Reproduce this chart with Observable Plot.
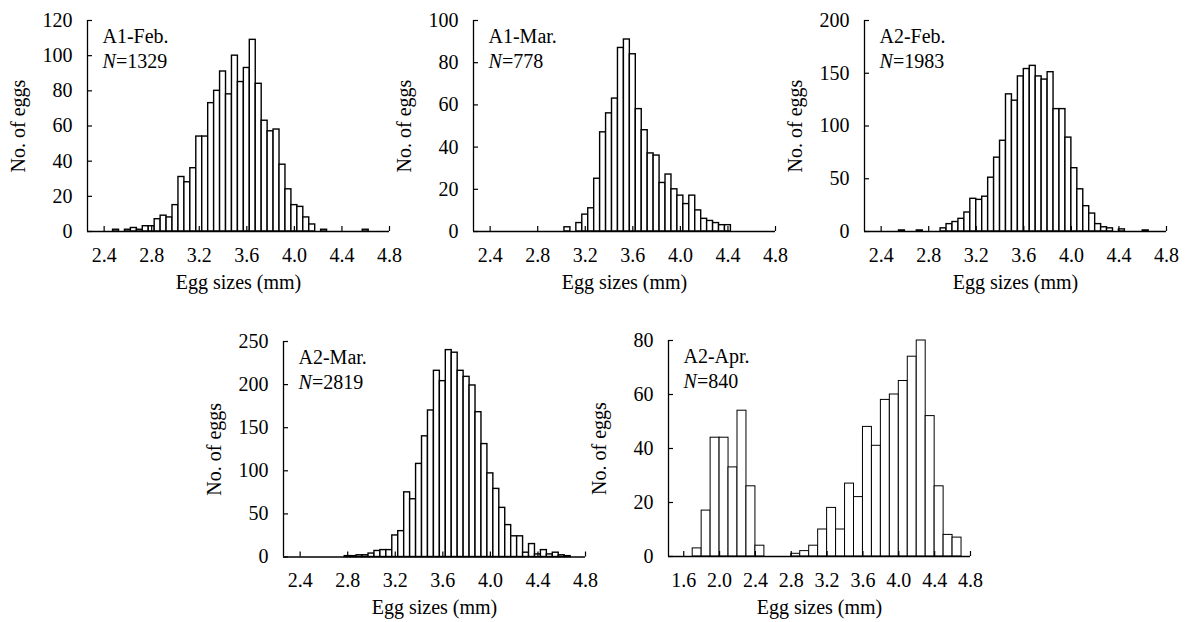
<!DOCTYPE html>
<html><head><meta charset="utf-8">
<script src="https://cdn.jsdelivr.net/npm/d3@7"></script>
<script src="https://cdn.jsdelivr.net/npm/@observablehq/plot@0.6"></script>
<style>
html,body{margin:0;padding:0;background:#fff;overflow:hidden;}
#chart{position:relative;width:1188px;height:622px;overflow:hidden;background:#fff;}
#chart svg{position:absolute;}
</style></head><body><div id="chart"></div>
<script>
// ---- data (egg size bin centres in mm, and number of eggs) ----
const a1FebSize = [2.50, 2.60, 2.65, 2.70, 2.75, 2.80, 2.85, 2.90, 2.95, 3.00, 3.05, 3.10, 3.15, 3.20, 3.25, 3.30, 3.35, 3.40, 3.45, 3.50, 3.55, 3.60, 3.65, 3.70, 3.75, 3.80, 3.85, 3.90, 3.95, 4.00, 4.05, 4.10, 4.15, 4.25, 4.60];
const a1FebCount = [1, 1, 2, 1, 3, 3, 7, 9, 8, 15, 31, 28, 36, 54, 54, 73, 80, 91, 78, 100, 85, 93, 109, 84, 63, 57, 58, 38, 24, 15, 14, 8, 4, 1, 1];

const a1MarSize = [3.05, 3.15, 3.20, 3.25, 3.30, 3.35, 3.40, 3.45, 3.50, 3.55, 3.60, 3.65, 3.70, 3.75, 3.80, 3.85, 3.90, 3.95, 4.00, 4.05, 4.10, 4.15, 4.20, 4.25, 4.30, 4.35, 4.40];
const a1MarCount = [2, 4, 8, 11, 25, 47, 56, 63, 87, 91, 84, 58, 48, 37, 36, 23, 27, 20, 17, 13, 17, 10, 6, 5, 4, 3, 3];

const a2FebSize = [2.575, 2.725, 2.925, 2.975, 3.025, 3.075, 3.125, 3.175, 3.225, 3.275, 3.325, 3.375, 3.425, 3.475, 3.525, 3.575, 3.625, 3.675, 3.725, 3.775, 3.825, 3.875, 3.925, 3.975, 4.025, 4.075, 4.125, 4.175, 4.225, 4.275, 4.325, 4.425, 4.625];
const a2FebCount = [1, 1, 3, 7, 9, 12, 18, 31, 30, 33, 51, 70, 86, 130, 124, 147, 154, 157, 147, 144, 151, 116, 116, 89, 60, 40, 24, 17, 7, 4, 3, 2, 1];

const a2MarSize = [2.80, 2.85, 2.90, 2.95, 3.00, 3.05, 3.10, 3.15, 3.20, 3.25, 3.30, 3.35, 3.40, 3.45, 3.50, 3.55, 3.60, 3.65, 3.70, 3.75, 3.80, 3.85, 3.90, 3.95, 4.00, 4.05, 4.10, 4.15, 4.20, 4.25, 4.30, 4.35, 4.40, 4.45, 4.50, 4.55, 4.60, 4.65];
const a2MarCount = [1, 1, 2, 2, 4, 7, 8, 8, 25, 30, 75, 67, 108, 140, 170, 216, 204, 240, 237, 216, 209, 199, 168, 131, 97, 79, 57, 37, 24, 24, 5, 15, 3, 8, 3, 5, 2, 1];

const a2AprSize = [1.75, 1.85, 1.95, 2.05, 2.15, 2.25, 2.35, 2.45, 2.85, 2.95, 3.05, 3.15, 3.25, 3.35, 3.45, 3.55, 3.65, 3.75, 3.85, 3.95, 4.05, 4.15, 4.25, 4.35, 4.45, 4.55, 4.65];
const a2AprCount = [3, 17, 44, 44, 33, 54, 26, 4, 1, 2, 4, 10, 18, 10, 27, 22, 48, 41, 58, 60, 65, 74, 80, 52, 26, 8, 7];

const panelNames = ["A1-Feb.", "A1-Mar.", "A2-Feb.", "A2-Mar.", "A2-Apr."];
const panelN = ["1329", "778", "1983", "2819", "840"];
const binWidths = [0.05, 0.05, 0.05, 0.05, 0.1];
const xTicksMain = [2.4, 2.8, 3.2, 3.6, 4.0, 4.4, 4.8];
const xTicksApr = [1.6, 2.0, 2.4, 2.8, 3.2, 3.6, 4.0, 4.4, 4.8];
const yTicks1 = [0, 20, 40, 60, 80, 100, 120];
const yTicks2 = [0, 20, 40, 60, 80, 100];
const yTicks3 = [0, 50, 100, 150, 200];
const yTicks4 = [0, 50, 100, 150, 200, 250];
const yTicks5 = [0, 20, 40, 60, 80];
const xLabel = "Egg sizes (mm)";
const yLabel = "No. of eggs";

const panels = [
  {sizes: a1FebSize, counts: a1FebCount, xDomain: [2.26, 4.8], xTicks: xTicksMain, yTicks: yTicks1},
  {sizes: a1MarSize, counts: a1MarCount, xDomain: [2.26, 4.8], xTicks: xTicksMain, yTicks: yTicks2},
  {sizes: a2FebSize, counts: a2FebCount, xDomain: [2.26, 4.8], xTicks: xTicksMain, yTicks: yTicks3},
  {sizes: a2MarSize, counts: a2MarCount, xDomain: [2.26, 4.8], xTicks: xTicksMain, yTicks: yTicks4},
  {sizes: a2AprSize, counts: a2AprCount, xDomain: [1.43, 4.8], xTicks: xTicksApr, yTicks: yTicks5}
];

// ---- layout ----
const layout = [
  {axisX: 87, top: 20, h: 211, sw: 1.4},
  {axisX: 473, top: 20, h: 211, sw: 1.4},
  {axisX: 864, top: 20, h: 211, sw: 1.4},
  {axisX: 283, top: 340.5, h: 215.5, sw: 1.4},
  {axisX: 668, top: 340, h: 216, sw: 1.0}
];
const mL = 90, mR = 14, mT = 20, mB = 70, plotW = 302;
const font = "'Liberation Serif', 'Times New Roman', Times, serif";

const container = document.getElementById("chart");

panels.forEach((p, i) => {
  const L = layout[i];
  const bw = binWidths[i];
  const data = p.sizes.map((s, j) => ({s, n: p.counts[j]}));
  const yMax = p.yTicks[p.yTicks.length - 1];
  const chart = Plot.plot({
    width: mL + plotW + mR,
    height: mT + L.h + mB,
    marginLeft: mL, marginRight: mR, marginTop: mT, marginBottom: mB,
    x: {domain: p.xDomain},
    y: {domain: [0, yMax]},
    style: {fontFamily: font, fontSize: "20px", background: "transparent", color: "#000", overflow: "visible"},
    marks: [
      Plot.rect(data, {x1: d => d.s - bw / 2, x2: d => d.s + bw / 2, y1: 0, y2: "n", fill: "white", stroke: "#000", strokeWidth: L.sw}),
      Plot.ruleY([0], {stroke: "#000", strokeWidth: 1.3}),
      Plot.ruleX([p.xDomain[0]], {stroke: "#000", strokeWidth: 1.3}),
      Plot.axisX({ticks: p.xTicks, tickSize: -5, tickPadding: 21, tickFormat: d3.format(".1f"), label: null, strokeWidth: 1.2, fontSize: 20}),
      Plot.axisY({ticks: p.yTicks, tickSize: -5, tickPadding: 20, tickFormat: d3.format("d"), label: null, strokeWidth: 1.2, fontSize: 20}),
      Plot.text([panelNames[i]], {frameAnchor: "top-left", dx: 15, dy: 22, textAnchor: "start", lineAnchor: "bottom", fontSize: 20, fill: "#000"}),
      Plot.text(["N"], {frameAnchor: "top-left", dx: 15, dy: 47, textAnchor: "start", lineAnchor: "bottom", fontSize: 20, fontStyle: "italic", fill: "#000"}),
      Plot.text(["=" + panelN[i]], {frameAnchor: "top-left", dx: 28.5, dy: 47, textAnchor: "start", lineAnchor: "bottom", fontSize: 20, fill: "#000"}),
      Plot.text([xLabel], {frameAnchor: "bottom", dy: 57, textAnchor: "middle", lineAnchor: "bottom", fontSize: 20, fill: "#000"}),
      Plot.text([yLabel], {frameAnchor: "left", dx: -69, rotate: -90, textAnchor: "middle", lineAnchor: "middle", fontSize: 20, fill: "#000"})
    ]
  });
  chart.style.left = (L.axisX - mL) + "px";
  chart.style.top = (L.top - mT) + "px";
  container.appendChild(chart);
});
</script>
</body></html>
